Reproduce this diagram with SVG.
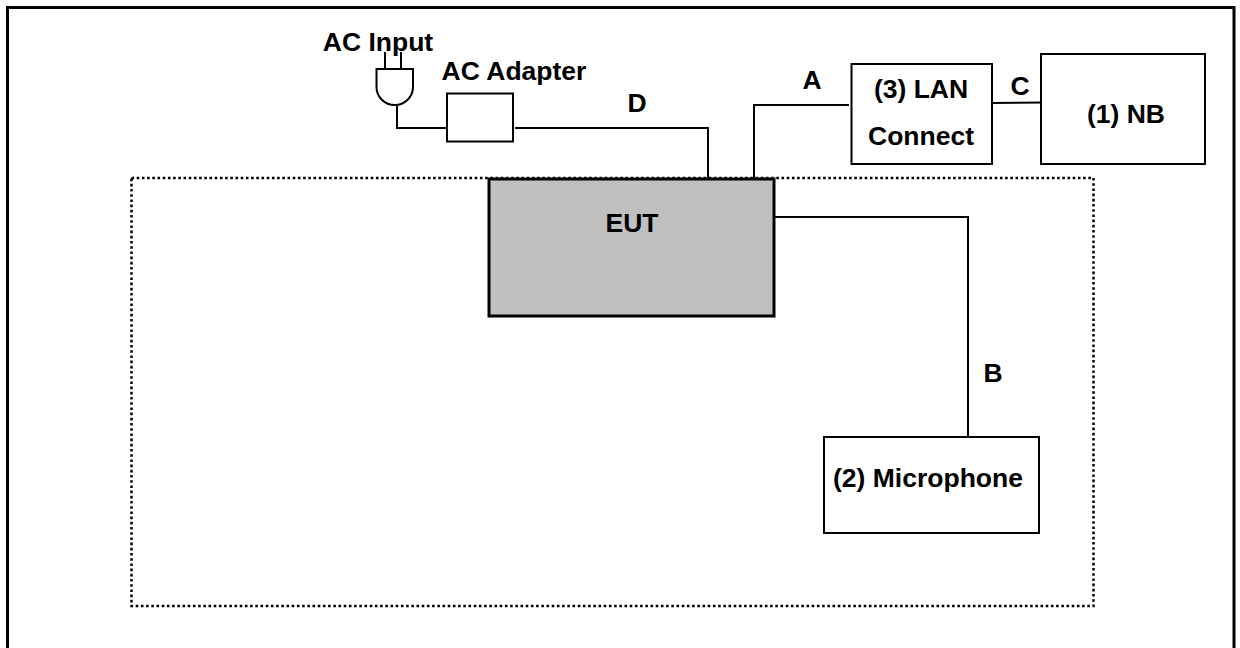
<svg xmlns="http://www.w3.org/2000/svg" width="1240" height="648" viewBox="0 0 1240 648">
<style>
text{font-family:"Liberation Sans",Arial,sans-serif;font-weight:bold;font-size:26.500px;fill:#000;text-anchor:middle}
.b{fill:#fff;stroke:#000;stroke-width:2}
.l{fill:none;stroke:#000;stroke-width:2}
</style>
<rect width="1240" height="648" fill="#fff"/>
<path d="M7.500 648V7.500H1234V648" fill="none" stroke="#000" stroke-width="3"/>
<rect id="boundary" x="131.500" y="178" width="962" height="428" fill="none" stroke="#000" stroke-width="2.500" stroke-dasharray="2.600 2.600"/>
<g id="connectors">
<path class="l" d="M397 105V128H447"/>
<path class="l" d="M515 128H708V178"/>
<path class="l" d="M754 178V105H849"/>
<path class="l" d="M993 103L1043 102.500"/>
<path class="l" d="M774 217H968V437"/>
</g>
<g id="plug">
<path class="l" d="M385 52V69M401 52V69"/>
<path class="l" d="M376.500 69H413V87A18.250 18 0 0 1 376.500 87Z"/>
<text x="378" y="51">AC Input</text>
</g>
<g id="adapter"><rect class="b" x="447" y="93.500" width="66" height="48"/><text x="514" y="80">AC Adapter</text></g>
<g id="lan"><rect class="b" x="851.500" y="64" width="140.500" height="100"/><text x="921" y="98">(3) LAN</text><text x="921" y="145">Connect</text></g>
<g id="nb"><rect class="b" x="1041" y="54" width="164" height="110"/><text x="1126" y="123">(1) NB</text></g>
<g id="eut"><rect x="489" y="179" width="285" height="137" fill="#c0c0c0" stroke="#000" stroke-width="3"/><text x="632" y="232">EUT</text></g>
<g id="microphone"><rect class="b" x="824" y="437" width="215" height="96"/><text x="928" y="487">(2) Microphone</text></g>
<g id="labels">
<text x="637" y="112">D</text><text x="812" y="89">A</text><text x="1020" y="95">C</text><text x="993" y="382">B</text>
</g>
</svg>
